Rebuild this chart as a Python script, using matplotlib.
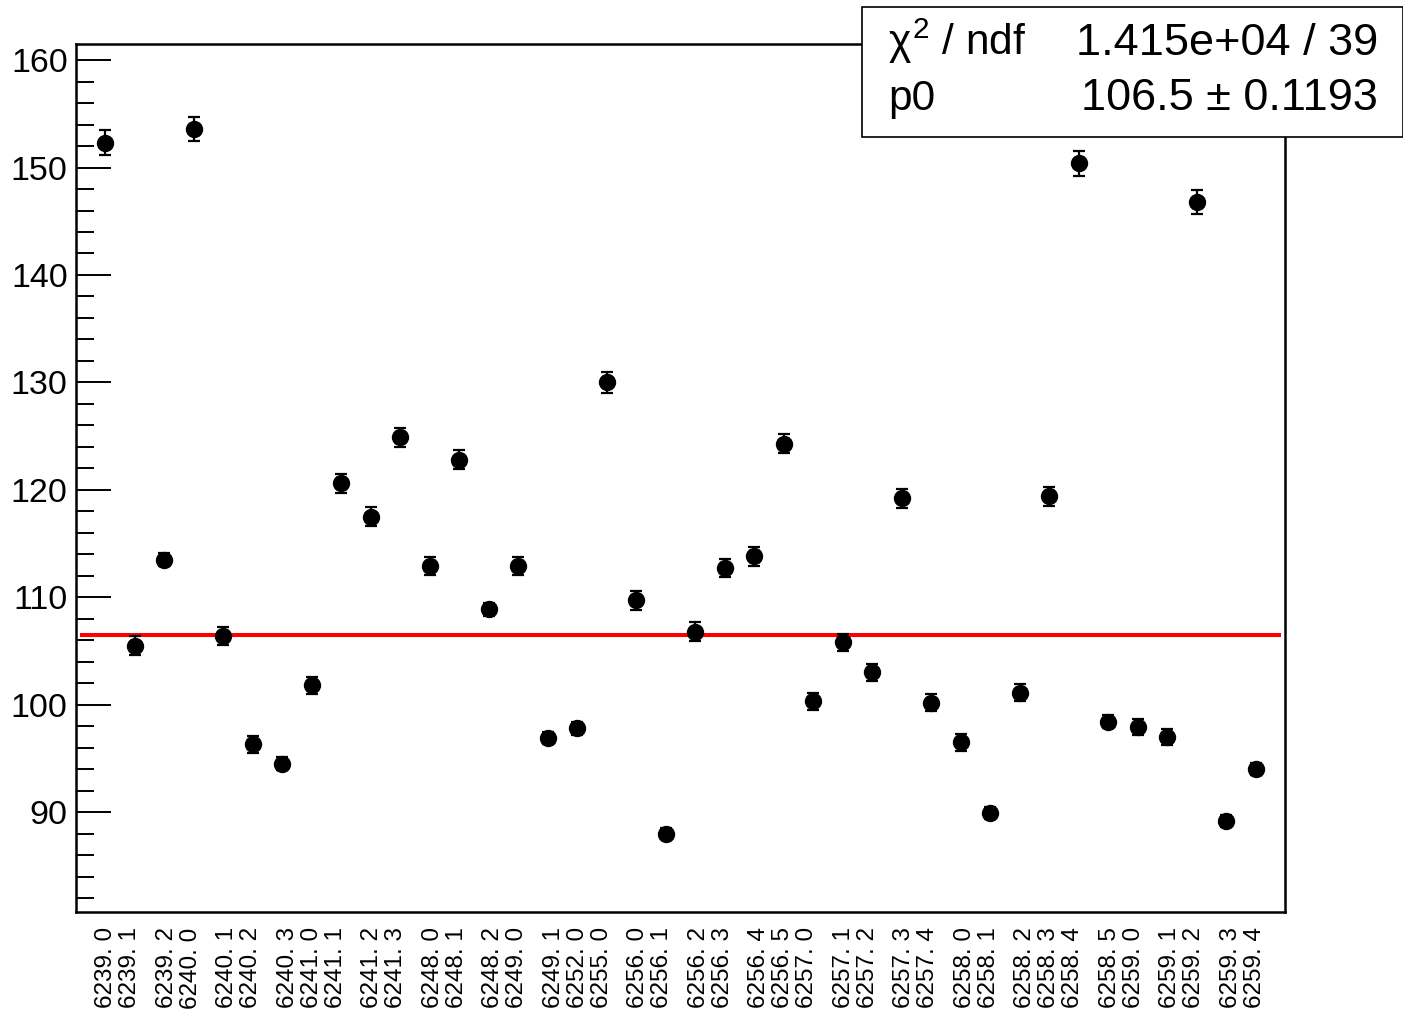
import numpy as np
import matplotlib
matplotlib.use("Agg")
import matplotlib.pyplot as plt
from matplotlib.patches import Rectangle

plt.rcParams['font.family'] = ['Liberation Sans', 'DejaVu Sans']
plt.rcParams['mathtext.fontset'] = 'custom'
plt.rcParams['mathtext.rm'] = 'Liberation Sans'
plt.rcParams['mathtext.it'] = 'Liberation Sans'

# run . subrun labels, one per point
labels = ['6239. 0', '6239. 1', '6239. 2', '6240. 0', '6240. 1', '6240. 2', '6240. 3',
          '6241. 0', '6241. 1', '6241. 2', '6241. 3', '6248. 0', '6248. 1', '6248. 2',
          '6249. 0', '6249. 1', '6252. 0', '6255. 0', '6256. 0', '6256. 1', '6256. 2',
          '6256. 3', '6256. 4', '6256. 5', '6257. 0', '6257. 1', '6257. 2', '6257. 3',
          '6257. 4', '6258. 0', '6258. 1', '6258. 2', '6258. 3', '6258. 4', '6258. 5',
          '6259. 0', '6259. 1', '6259. 2', '6259. 3', '6259. 4']

values = [152.3, 105.5, 113.5, 153.6, 106.4, 96.3, 94.5, 101.8, 120.6, 117.5,
          124.9, 112.9, 122.8, 108.9, 112.9, 96.9, 97.8, 130.0, 109.7, 88.0,
          106.8, 112.7, 113.8, 124.3, 100.3, 105.8, 103.0, 119.2, 100.2, 96.5,
          89.9, 101.1, 119.4, 150.4, 98.4, 97.9, 97.0, 146.8, 89.2, 94.0]

errors = [1.15, 0.85, 0.6, 1.15, 0.85, 0.8, 0.6, 0.8, 0.9, 0.9,
          0.9, 0.85, 0.9, 0.6, 0.85, 0.6, 0.6, 0.95, 0.85, 0.55,
          0.85, 0.85, 0.85, 0.9, 0.8, 0.8, 0.8, 0.9, 0.8, 0.8,
          0.55, 0.8, 0.9, 1.15, 0.6, 0.75, 0.75, 1.13, 0.55, 0.55]

p0 = 106.5
p0_err = 0.1193
chi2 = 1.415e4
ndf = 39

x = np.arange(len(values))
xlo, xhi = -1, len(values)
ylo, yhi = 80.7, 161.5

W, H = 1403, 1013
fig = plt.figure(figsize=(W / 100, H / 100), dpi=100)
ax = fig.add_axes([76 / W, 1 - 912 / H, (1285 - 76) / W, (912 - 44) / H])

# data points with error bars
ax.errorbar(x, values, yerr=errors, fmt='o', color='black', markersize=11.5,
            elinewidth=1.6, capsize=4, capthick=1.6, zorder=3)

# constant fit
inset = 0.005 * (xhi - xlo)
ax.plot([xlo + inset, xhi - inset], [p0, p0], color='red', lw=2.9, zorder=2)

ax.set_xlim(xlo, xhi)
ax.set_ylim(ylo, yhi)

# labels sit on the centre of the 100-bin axis bin holding each point
edges = np.linspace(xlo, xhi, 101)
centers = 0.5 * (edges[:-1] + edges[1:])
bins = np.digitize(x, edges) - 1
ax.set_xticks(centers[bins])
ax.set_xticklabels(labels, rotation=90, fontsize=17.5)
ax.tick_params(axis='x', length=0, pad=11)

ax.set_yticks(np.arange(90, 161, 10))
ax.set_yticks(np.arange(82, 162, 2), minor=True)
ax.tick_params(axis='y', which='major', direction='in', length=25, width=1.4,
               labelsize=24.5, pad=6)
ax.tick_params(axis='y', which='minor', direction='in', length=13, width=1.4)

for s in ax.spines.values():
    s.set_linewidth(1.8)

# fit statistics box
box = Rectangle((862 / W, 1 - 137 / H), (W - 862) / W, (137 - 7) / H,
                transform=fig.transFigure, facecolor='white', edgecolor='black',
                lw=1.2, zorder=10)
fig.add_artist(box)
fig.text(888 / W, 1 - 55 / H, r'$\chi^{2}$ / ndf', fontsize=30.5, zorder=11,
         va='baseline')
fig.text(1378 / W, 1 - 55 / H, '%.3e / %d' % (chi2, ndf), fontsize=32.5,
         ha='right', va='baseline', zorder=11)
fig.text(888 / W, 1 - 110 / H, 'p0', fontsize=30.5, va='baseline', zorder=11)
fig.text(1378 / W, 1 - 110 / H, '%.1f \u00b1 %.4f' % (p0, p0_err), fontsize=32.5,
         ha='right', va='baseline', zorder=11)

fig.savefig('out.png', dpi=100)
